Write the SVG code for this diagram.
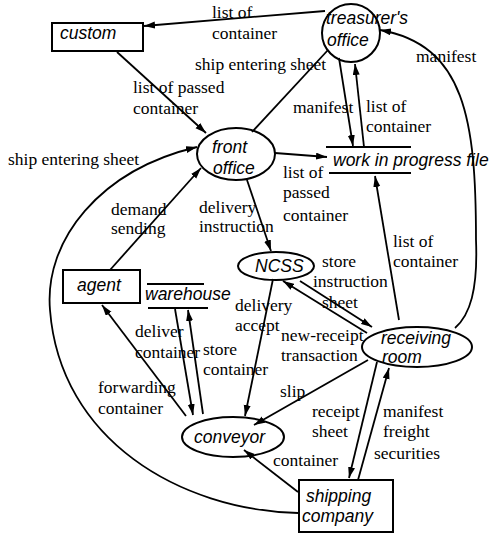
<svg xmlns="http://www.w3.org/2000/svg" width="491" height="535" viewBox="0 0 491 535">
<defs>
<marker id="ah" markerUnits="userSpaceOnUse" markerWidth="12" markerHeight="8" refX="11" refY="3.5" orient="auto">
<path d="M0,0 L11,3.5 L0,7 z" fill="#000"/>
</marker>
<style>
.n{fill:#fff;stroke:#000;stroke-width:2}
.s{stroke:#000;stroke-width:2;fill:none}
.t{font-family:"Liberation Sans",Arial,sans-serif;font-style:italic;font-size:17.5px;fill:#000}
.l{font-family:"Liberation Serif","Times New Roman",serif;font-size:17.5px;fill:#000}
.c{stroke:#000;stroke-width:1.8;fill:none;marker-end:url(#ah)}
.c0{stroke:#000;stroke-width:1.8;fill:none}
</style>
</defs>
<rect width="491" height="535" fill="#fff"/>
<g id="connectors">
<path class="c" d="M325,11 L144,26"/>
<path class="c" d="M117,52 L206,133"/>
<path class="c0" d="M252,132 L328,50"/>
<path class="c" d="M339,58 L353,146"/>
<path class="c" d="M364,147 L355,64"/>
<path class="c" d="M455,328 C470,315 478,290 476,240 C476,120 465,45 380,30"/>
<path class="c" d="M275,153 L327,157"/>
<path class="c" d="M247,180 L271,251"/>
<path class="c" d="M298,513 C180,510 60,440 50,310 C44,240 100,170 197,147"/>
<path class="c" d="M110,270 L201,168"/>
<path class="c" d="M399,320 L375,176"/>
<path class="c" d="M300,281 L372,327"/>
<path class="c" d="M367,333 L283,281"/>
<path class="c" d="M273,279 L245,416"/>
<path class="c" d="M175,309 L193,415"/>
<path class="c" d="M203,414 L188,310"/>
<path class="c" d="M186,416 L102,305"/>
<path class="c" d="M368,360 L254,425"/>
<path class="c" d="M298,492 L244,450"/>
<path class="c" d="M377,362 L349,478"/>
<path class="c" d="M358,480 L389,368"/>
</g>
<g id="labels">
<text class="l" x="212" y="18">list of</text>
<text class="l" x="212" y="39">container</text>
<text class="l" x="195" y="70">ship entering sheet</text>
<text class="l" x="133" y="93">list of passed</text>
<text class="l" x="133" y="114">container</text>
<text class="l" x="416" y="62">manifest</text>
<text class="l" x="293" y="113">manifest</text>
<text class="l" x="366" y="112">list of</text>
<text class="l" x="366" y="132">container</text>
<text class="l" x="8" y="165">ship entering sheet</text>
<text class="l" x="283" y="178">list of</text>
<text class="l" x="283" y="198">passed</text>
<text class="l" x="283" y="221">container</text>
<text class="l" x="111" y="215">demand</text>
<text class="l" x="111" y="234">sending</text>
<text class="l" x="199" y="213">delivery</text>
<text class="l" x="199" y="232">instruction</text>
<text class="l" x="393" y="247">list of</text>
<text class="l" x="393" y="267">container</text>
<text class="l" x="322" y="267">store</text>
<text class="l" x="313" y="287">instruction</text>
<text class="l" x="322" y="308">sheet</text>
<text class="l" x="235" y="311">delivery</text>
<text class="l" x="235" y="331">accept</text>
<text class="l" x="135" y="337">deliver</text>
<text class="l" x="135" y="358">container</text>
<text class="l" x="203" y="355">store</text>
<text class="l" x="203" y="375">container</text>
<text class="l" x="281" y="341">new-receipt</text>
<text class="l" x="281" y="361">transaction</text>
<text class="l" x="98" y="393">forwarding</text>
<text class="l" x="98" y="414">container</text>
<text class="l" x="280" y="397">slip</text>
<text class="l" x="312" y="417">receipt</text>
<text class="l" x="312" y="437">sheet</text>
<text class="l" x="383" y="417">manifest</text>
<text class="l" x="383" y="437">freight</text>
<text class="l" x="374" y="459">securities</text>
<text class="l" x="273" y="466">container</text>
</g>
<g id="custom">
<rect class="n" x="52" y="23" width="91" height="28"/>
<text class="t" x="60" y="39">custom</text>
</g>
<g id="treasurers-office">
<circle class="n" cx="351" cy="33" r="29" style="fill:none"/>
<text class="t" x="326" y="24">treasurer's</text>
<text class="t" x="327" y="46">office</text>
</g>
<g id="front-office">
<ellipse class="n" cx="236" cy="154" rx="39" ry="26" style="fill:none"/>
<text class="t" x="212" y="153">front</text>
<text class="t" x="213" y="174">office</text>
</g>
<g id="work-in-progress-file">
<line class="s" x1="326" y1="147" x2="411" y2="147"/>
<line class="s" x1="329" y1="173" x2="411" y2="173"/>
<text class="t" x="333" y="166">work in progress file</text>
</g>
<g id="ncss">
<ellipse class="n" cx="276" cy="266" rx="38" ry="14" style="fill:none"/>
<text class="t" x="255" y="272">NCSS</text>
</g>
<g id="agent">
<rect class="n" x="63" y="270" width="77" height="33"/>
<text class="t" x="77" y="291">agent</text>
</g>
<g id="warehouse">
<line class="s" x1="147" y1="284" x2="204" y2="284"/>
<line class="s" x1="148" y1="308" x2="208" y2="308"/>
<text class="t" x="145" y="300">warehouse</text>
</g>
<g id="receiving-room">
<ellipse class="n" cx="417" cy="347" rx="55" ry="20" style="fill:none"/>
<text class="t" x="381" y="344">receiving</text>
<text class="t" x="382" y="363">room</text>
</g>
<g id="conveyor">
<ellipse class="n" cx="233" cy="437" rx="51" ry="20" style="fill:none"/>
<text class="t" x="194" y="443">conveyor</text>
</g>
<g id="shipping-company">
<rect class="n" x="299" y="480" width="94" height="52"/>
<text class="t" x="306" y="502">shipping</text>
<text class="t" x="302" y="522">company</text>
</g>
</svg>
